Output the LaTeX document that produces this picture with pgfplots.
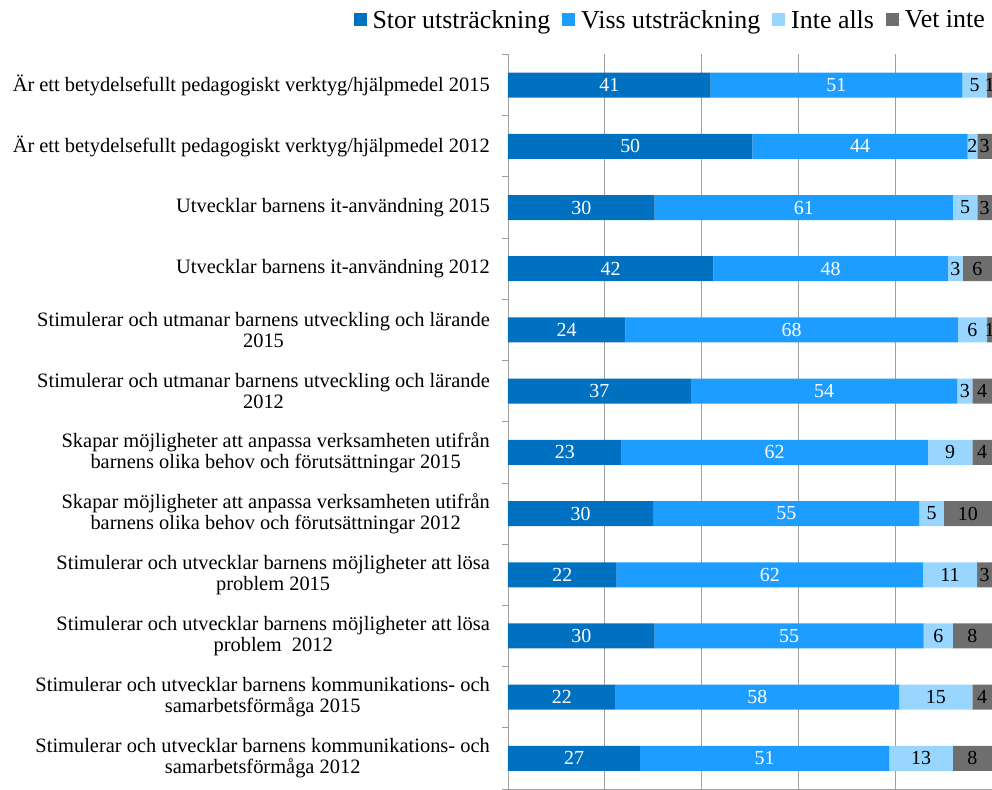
\documentclass[border=0pt]{standalone}
\usepackage{fontspec}
\setmainfont{Liberation Serif}
\usepackage{pgfplots}
\usepackage{pgfplotstable}
\pgfplotsset{compat=1.18}
\definecolor{cStor}{RGB}{0,112,192}
\definecolor{cViss}{RGB}{28,157,255}
\definecolor{cInte}{RGB}{153,214,255}
\definecolor{cVet}{RGB}{110,110,110}
\definecolor{cGrid}{RGB}{160,160,160}

% y: position (11 = top row), w: bar length, c: centre of segment, lab: printed value
\pgfplotstableread{
y w c lab
11 41.84 20.92 41
10 50.51 25.25 50
9 30.30 15.15 30
8 42.42 21.21 42
7 24.24 12.12 24
6 37.76 18.88 37
5 23.47 11.73 23
4 30.00 15.00 30
3 22.45 11.22 22
2 30.30 15.15 30
1 22.22 11.11 22
0 27.27 13.64 27
}\tStor
\pgfplotstableread{
y w c lab
11 52.04 67.86 51
10 44.44 72.73 44
9 61.62 61.11 61
8 48.48 66.66 48
7 68.69 58.59 68
6 55.10 65.31 54
5 63.27 55.10 62
4 55.00 57.50 55
3 63.27 54.08 62
2 55.56 58.08 55
1 58.59 51.52 58
0 51.52 53.03 51
}\tViss
\pgfplotstableread{
y w c lab
11 5.10 96.43 5
10 2.02 95.96 2
9 5.05 94.44 5
8 3.03 92.42 3
7 6.06 95.96 6
6 3.06 94.39 3
5 9.18 91.33 9
4 5.00 87.50 5
3 11.22 91.33 11
2 6.06 88.89 6
1 15.15 88.38 15
0 13.13 85.35 13
}\tInte
\pgfplotstableread{
y w c lab
11 1.02 99.49 1
10 3.03 98.48 3
9 3.03 98.48 3
8 6.06 96.97 6
7 1.01 99.49 1
6 4.08 97.96 4
5 4.08 97.96 4
4 10.00 95.00 10
3 3.06 98.47 3
2 8.08 95.96 8
1 4.04 97.98 4
0 8.08 95.96 8
}\tVet

\begin{document}
\begin{tikzpicture}
\path[use as bounding box] (-508bp,-1bp) rectangle (484bp,789bp);
\begin{axis}[
  at={(0,0)}, anchor=south west, scale only axis,
  width=484bp, height=734.5bp,
  xmin=0, xmax=100, ymin=-0.5, ymax=11.5,
  xbar stacked, bar width=25bp,
  axis lines*=left,
  axis line style={draw=cGrid, line width=0.9bp},
  xtick={20,40,60,80,100}, xticklabels={},
  xmajorgrids,
  major grid style={draw=cGrid, line width=0.9bp},
  x tick style={draw=none},
  ytick={0,...,11},
  minor ytick={-0.5,0.5,...,11.5},
  major tick length=0pt,
  minor tick length=6bp,
  tick align=outside,
  y tick style={draw=cGrid, line width=0.9bp},
  yticklabel style={font=\fontsize{20.5}{21}\selectfont, align=center, inner xsep=0pt, xshift=-18bp},
  yticklabels={
    {Stimulerar och utvecklar barnens kommunikations- och\\samarbetsförmåga 2012},
    {Stimulerar och utvecklar barnens kommunikations- och\\samarbetsförmåga 2015},
    {Stimulerar och utvecklar barnens möjligheter att lösa\\problem\ \ 2012},
    {Stimulerar och utvecklar barnens möjligheter att lösa\\problem 2015},
    {Skapar möjligheter att anpassa verksamheten utifrån\\barnens olika behov och förutsättningar 2012},
    {Skapar möjligheter att anpassa verksamheten utifrån\\barnens olika behov och förutsättningar 2015},
    {Stimulerar och utmanar barnens utveckling och lärande\\2012},
    {Stimulerar och utmanar barnens utveckling och lärande\\2015},
    {Utvecklar barnens it-användning 2012},
    {Utvecklar barnens it-användning 2015},
    {Är ett betydelsefullt pedagogiskt verktyg/hjälpmedel 2012},
    {Är ett betydelsefullt pedagogiskt verktyg/hjälpmedel 2015}
  },
  legend columns=4,
  legend style={at={(1,1)}, anchor=east, yshift=34.5bp, xshift=-5bp, draw=none, inner sep=0pt,
    font=\fontsize{26}{30}\selectfont,
    /tikz/every even column/.append style={column sep=10bp}},
  legend image code/.code={\fill[#1,draw=none] (0bp,-6.5bp) rectangle (13bp,6.5bp);
    \path (0bp,0bp) -- (17bp,0bp);},
]
\addplot[fill=cStor, draw=none] table[x=w, y=y] {\tStor};
\addlegendentry{Stor utsträckning}
\addplot[fill=cViss, draw=none] table[x=w, y=y] {\tViss};
\addlegendentry{Viss utsträckning}
\addplot[fill=cInte, draw=none] table[x=w, y=y] {\tInte};
\addlegendentry{Inte alls}
\addplot[fill=cVet, draw=none] table[x=w, y=y] {\tVet};
\addlegendentry{Vet inte}
\end{axis}
\begin{axis}[
  at={(0,0)}, anchor=south west, scale only axis,
  width=484bp, height=734.5bp,
  xmin=0, xmax=100, ymin=-0.5, ymax=11.5,
  hide axis, clip=false,
  nodes near coords, point meta=explicit symbolic,
  every node near coord/.append style={anchor=center, font=\fontsize{20}{24}\selectfont},
]
\addplot[draw=none, mark=none, every node near coord/.append style={text=white}] table[x=c, y=y, meta=lab] {\tStor};
\addplot[draw=none, mark=none, every node near coord/.append style={text=white}] table[x=c, y=y, meta=lab] {\tViss};
\addplot[draw=none, mark=none, every node near coord/.append style={text=black}] table[x=c, y=y, meta=lab] {\tInte};
\addplot[draw=none, mark=none, every node near coord/.append style={text=black}] table[x=c, y=y, meta=lab] {\tVet};
\end{axis}
\end{tikzpicture}
\end{document}
